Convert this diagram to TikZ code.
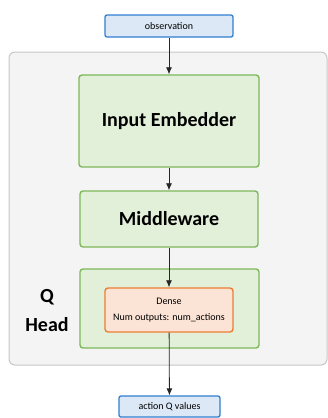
\documentclass[tikz,border=0pt]{standalone}
\usepackage{fontspec}
\setmainfont{Carlito}
\usetikzlibrary{arrows.meta}

\definecolor{bluefill}{HTML}{DCE8F6}
\definecolor{bluedraw}{HTML}{2F7FCF}
\definecolor{greenfill}{HTML}{E2EFD9}
\definecolor{greendraw}{HTML}{7DB85A}
\definecolor{orangefill}{HTML}{FBE4D5}
\definecolor{orangedraw}{HTML}{EE7D34}
\definecolor{panelfill}{HTML}{F4F4F4}
\definecolor{paneldraw}{HTML}{C6C6C6}

\tikzset{
  iobox/.style={draw=bluedraw, fill=bluefill, line width=1.3pt, rounded corners=2pt,
    font=\fontsize{10}{12}\selectfont, inner sep=0pt},
  blockbox/.style={draw=greendraw, fill=greenfill, line width=1.4pt, rounded corners=3pt,
    font=\fontsize{20}{24}\bfseries\selectfont, inner sep=0pt},
  densebox/.style={draw=orangedraw, fill=orangefill, line width=1.4pt, rounded corners=3pt,
    font=\fontsize{10}{16}\selectfont, align=center, inner sep=0pt},
  flow/.style={-{Latex[length=7pt,width=6pt]}, line width=0.8pt, draw=black!85},
}

\begin{document}
\begin{tikzpicture}[x=1pt, y=-1pt]
		\useasboundingbox (0,0) rectangle (328,418);
		% outer panel
		\draw[draw=paneldraw, fill=panelfill, line width=1pt, rounded corners=6pt] (9,52) rectangle (327,365);
		\node [iobox, minimum width=128pt, minimum height=22pt] (obs) at (169,26) {observation};
		\node [blockbox, minimum width=180pt, minimum height=92pt] (embed) at (169,121) {Input Embedder};
		\node [blockbox, minimum width=178pt, minimum height=56pt] (middle) at (169,219) {Middleware};
		\node [blockbox, minimum width=179pt, minimum height=79pt] (qhead) at (169.5,308.5) {};
		\node [densebox, minimum width=128pt, minimum height=44pt] (dense) at (169,310) {Dense\\Num outputs: num\_actions};
		\node [iobox, minimum width=101pt, minimum height=21pt] (qvalues) at (169.5,406.5) {action Q values};
		\node [font=\fontsize{20}{29}\bfseries\selectfont, align=center] (qlabel) at (47,311) {Q\\Head};
		\draw[flow] (obs) -- (embed);
		\draw[flow] (embed) -- (middle);
		\draw[flow] (middle) -- (dense);
		\draw[flow] (dense) -- (qvalues);
	\end{tikzpicture}
\end{document}
